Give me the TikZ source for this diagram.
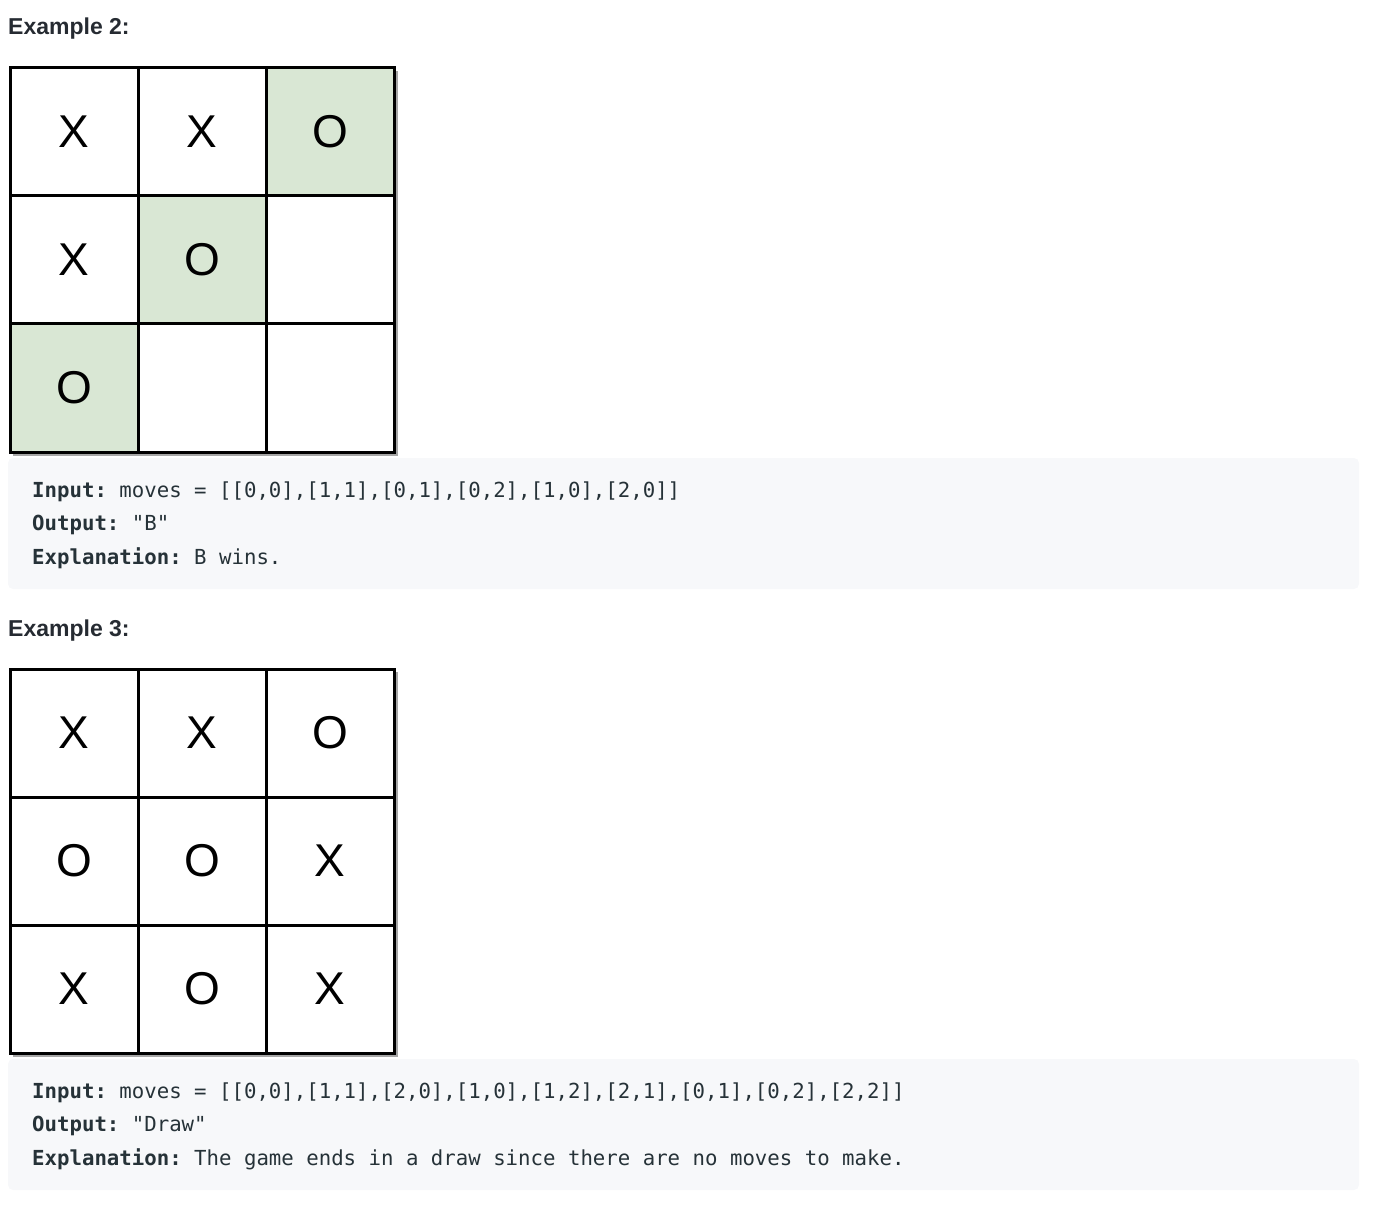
\documentclass[tikz,border=0pt]{standalone}
\usepackage{fontspec}
\setmainfont{Liberation Sans}
\setmonofont{DejaVu Sans Mono}
\usepackage{xcolor}
\usepackage{tikz}
\definecolor{wingreen}{RGB}{217,231,212}
\definecolor{codebg}{RGB}{247,248,250}
\definecolor{headgray}{RGB}{38,43,50}
\definecolor{codegray}{RGB}{38,50,56}
\tikzset{
  cell/.style={draw=black,fill=white,line width=3pt,minimum size=128pt,inner sep=0pt,
    font=\fontsize{46}{46}\selectfont},
  wincell/.style={cell,fill=wingreen},
  heading/.style={anchor=base west,inner sep=0pt,text=headgray,
    font=\fontsize{23}{23}\selectfont\bfseries},
  codeline/.style={anchor=base west,inner sep=0pt,text=codegray,
    font=\fontsize{20.7}{20.7}\selectfont\ttfamily},
  codebox/.style={fill=codebg,rounded corners=5pt},
  boardshade/.style={fill=black!35}
}
\begin{document}
\begin{tikzpicture}[x=1pt,y=-1pt]
        \useasboundingbox (0,0) rectangle (1376,1214);
        % example 2
        \node[heading] (headtwo) at (8,35) {Example 2:};
        \fill[boardshade] (13,71) rectangle (398,456);
        \node[cell] (b00) at (74,132) {X};
        \node[cell] (b01) at (202,132) {X};
        \node[wincell] (b02) at (330,132) {O};
        \node[cell] (b10) at (74,260) {X};
        \node[wincell] (b11) at (202,260) {O};
        \node[cell] (b12) at (330,260) {};
        \node[wincell] (b20) at (74,388) {O};
        \node[cell] (b21) at (202,388) {};
        \node[cell] (b22) at (330,388) {};
        \path[codebox] (8,458) rectangle (1359,589);
        \node[codeline] (inputtwo) at (32,497) {\textbf{Input:} moves = [[0,0],[1,1],[0,1],[0,2],[1,0],[2,0]]};
        \node[codeline] (outputtwo) at (32,530.5) {\textbf{Output:} "B"};
        \node[codeline] (explaintwo) at (32,564) {\textbf{Explanation:} B wins.};
        % example 3
        \node[heading] (headthree) at (8,636) {Example 3:};
        \fill[boardshade] (13,672) rectangle (398,1057);
        \node[cell] (d00) at (74,733) {X};
        \node[cell] (d01) at (202,733) {X};
        \node[cell] (d02) at (330,733) {O};
        \node[cell] (d10) at (74,861) {O};
        \node[cell] (d11) at (202,861) {O};
        \node[cell] (d12) at (330,861) {X};
        \node[cell] (d20) at (74,989) {X};
        \node[cell] (d21) at (202,989) {O};
        \node[cell] (d22) at (330,989) {X};
        \path[codebox] (8,1059) rectangle (1359,1190);
        \node[codeline] (inputthree) at (32,1098) {\textbf{Input:} moves = [[0,0],[1,1],[2,0],[1,0],[1,2],[2,1],[0,1],[0,2],[2,2]]};
        \node[codeline] (outputthree) at (32,1131.5) {\textbf{Output:} "Draw"};
        \node[codeline] (explainthree) at (32,1165) {\textbf{Explanation:} The game ends in a draw since there are no moves to make.};
\end{tikzpicture}
\end{document}
